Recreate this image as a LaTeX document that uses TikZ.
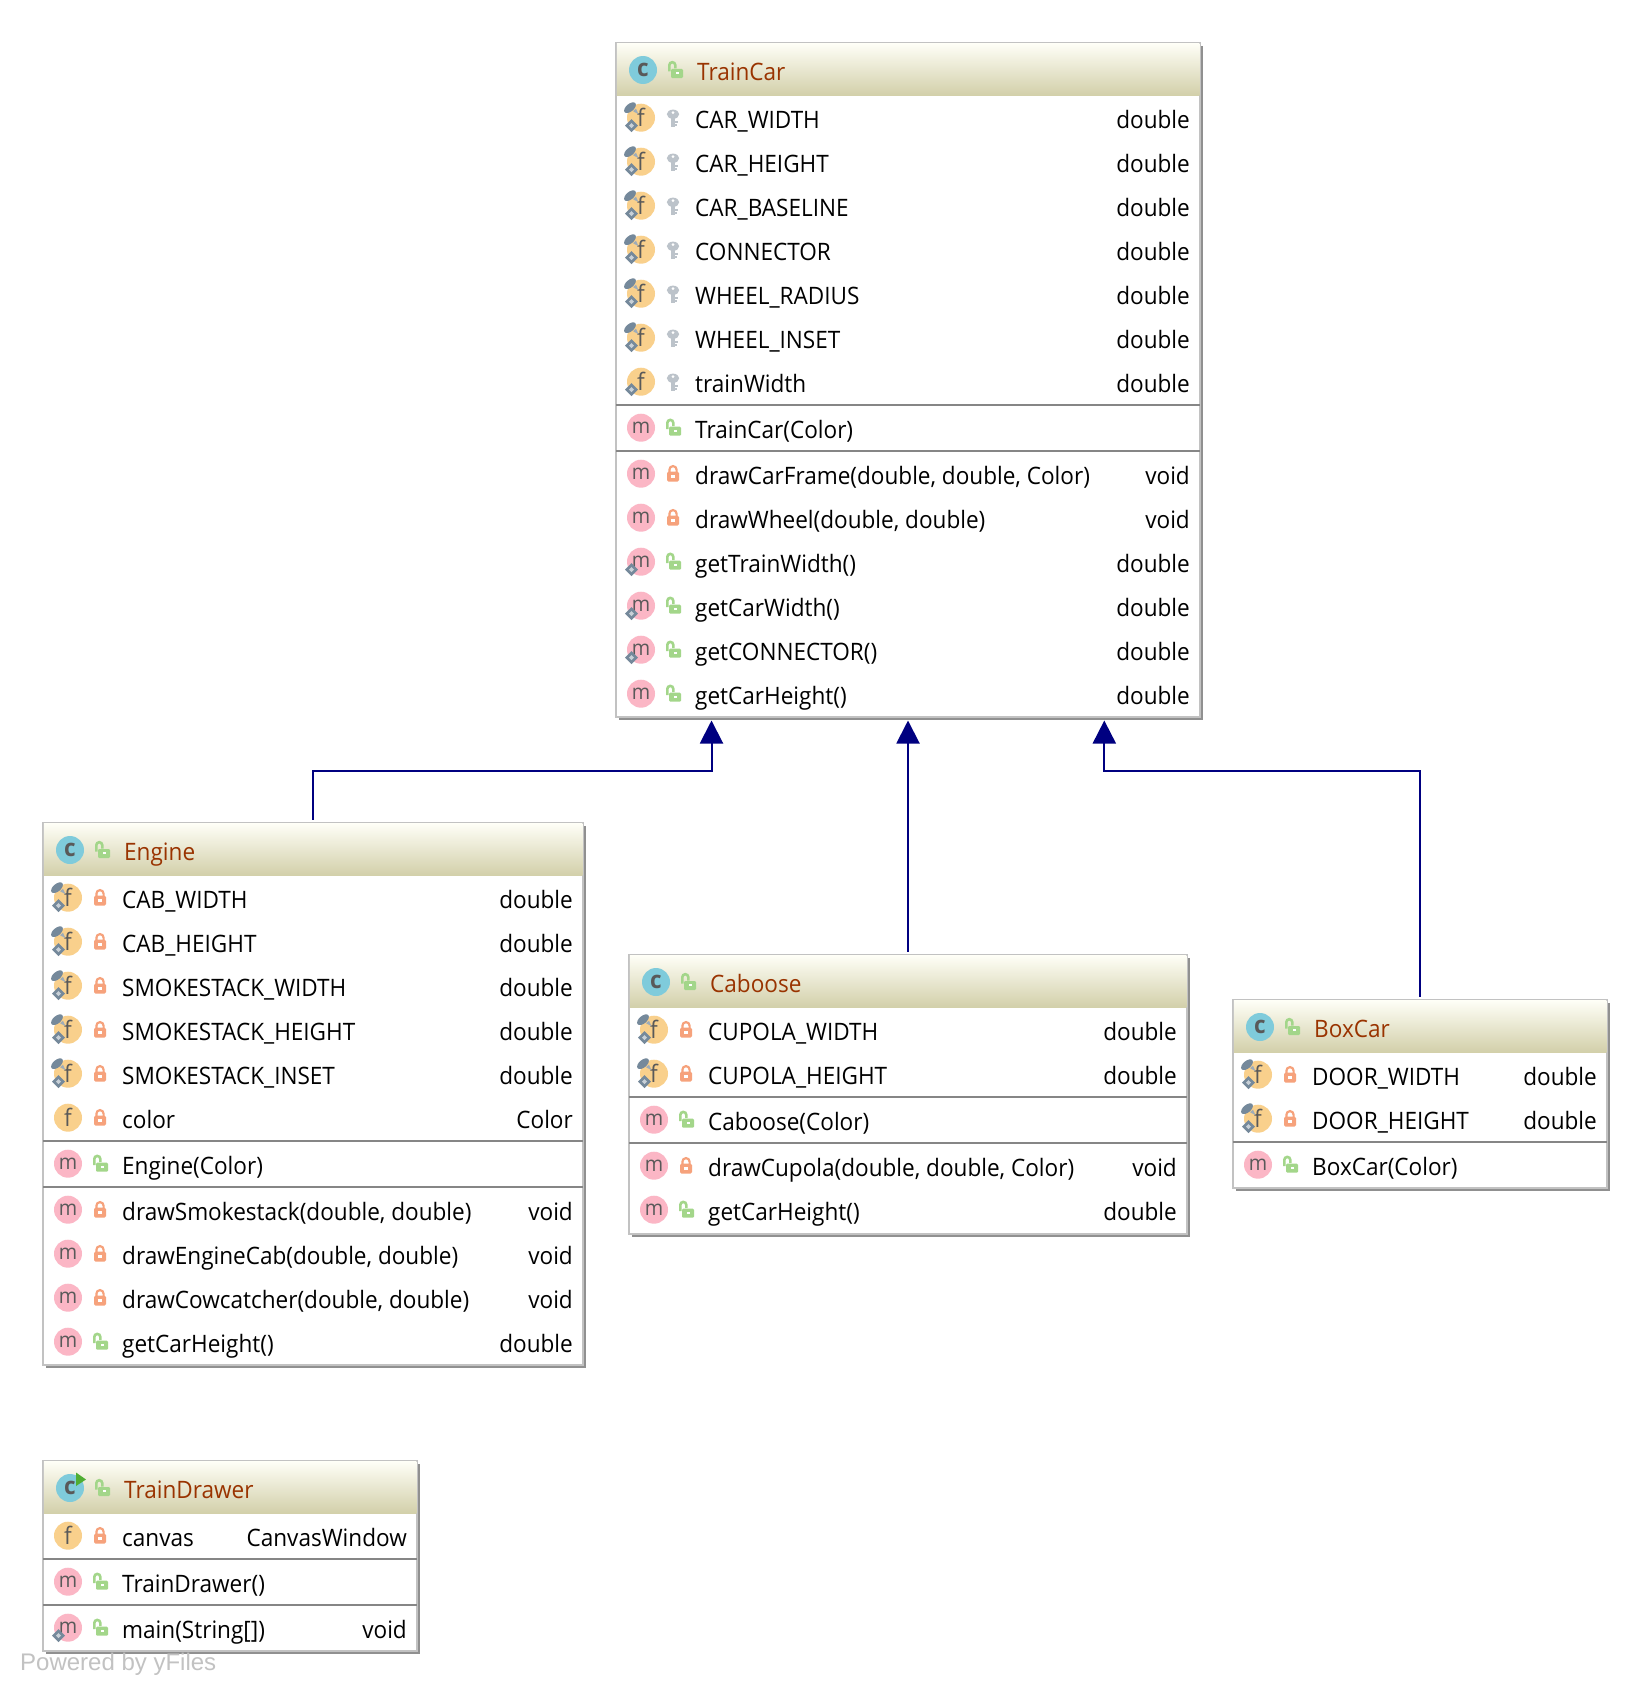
\documentclass[tikz,border=0pt]{standalone}
\usepackage{fontspec}
\setmainfont[FakeStretch=0.94]{Open Sans}
\newfontfamily\brandfont{Liberation Sans}
\usepackage{xcolor}
\usetikzlibrary{arrows.meta,calc}
\definecolor{headtop}{HTML}{FEFEF6}
\definecolor{headbot}{HTML}{D2CFA9}
\definecolor{titleclr}{HTML}{993300}
\definecolor{edgeclr}{HTML}{000080}
\definecolor{rimclr}{HTML}{C2C2C2}
\definecolor{shadeclr}{HTML}{909090}
\definecolor{sepclr}{HTML}{868686}
\definecolor{classclr}{HTML}{7FCBDB}
\definecolor{fieldclr}{HTML}{F9D08C}
\definecolor{methclr}{HTML}{FBB6C5}
\definecolor{pubclr}{HTML}{A3D68A}
\definecolor{privclr}{HTML}{F6A27C}
\definecolor{keyclr}{HTML}{BCC3CA}
\definecolor{markclr}{HTML}{75899B}
\definecolor{runclr}{HTML}{4FAE33}
\tikzset{
  every node/.style={font=\fontsize{24}{24}\selectfont},
  body/.style={draw=rimclr,line width=1.5pt,fill=white,inner sep=0pt,outer sep=0pt,anchor=north west},
  head/.style={top color=headtop,bottom color=headbot,inner sep=0pt,outer sep=0pt,anchor=north,minimum height=52pt},
  ico/.style={circle,minimum size=28pt,inner sep=0pt,outer sep=0pt},
  icoc/.style={ico,fill=classclr,text=black!65,font=\fontsize{24}{24}\selectfont\bfseries},
  icof/.style={ico,fill=fieldclr,text=black!65,font=\fontsize{24}{24}\selectfont},
  icom/.style={ico,fill=methclr,text=black!65,font=\fontsize{21}{21}\selectfont},
  lab/.style={anchor=base west,inner sep=0pt},
  typ/.style={anchor=base east,inner sep=0pt},
  ttl/.style={anchor=base west,inner sep=0pt,text=titleclr},
  sep/.style={draw=sepclr,line width=1.6pt},
  arr/.style={-{Triangle[length=23pt,width=23pt]},draw=edgeclr,line width=2pt,shorten >=3.5pt,shorten <=3.5pt},
  plain/.pic={},
  lockshut/.pic={
    \draw[privclr,line width=2.2pt] (-3.6,-1) -- (-3.6,-4) arc[start angle=180,end angle=360,radius=3.6] -- (3.6,-1);
    \fill[privclr,rounded corners=1.5pt] (-6,-2) rectangle (6,8);
    \fill[white] (-1.8,1.4) rectangle (1.8,3.8);
  },
  lockopen/.pic={
    \draw[pubclr,line width=2.6pt] (-5.7,1.5) -- (-5.7,-4.8) arc[start angle=180,end angle=360,radius=3] -- (0.3,-1.5);
    \fill[pubclr,rounded corners=1.2pt] (-4,-1) rectangle (8,8);
    \fill[white] (0.5,2) rectangle (4,4.2);
  },
  keyico/.pic={
    \fill[keyclr] (0,-3.5) ellipse [x radius=6.2,y radius=4.6];
    \fill[white] (0,-5) circle (1.5);
    \fill[keyclr] (-2.4,-1) rectangle (2.4,9.5);
    \fill[keyclr] (2,3) rectangle (5,5);
    \fill[keyclr] (2,6.4) rectangle (4.2,8.2);
  },
  pinmark/.pic={
    \fill[markclr] (-11,-10) ellipse [x radius=7,y radius=3.8,rotate=40];
    \fill[markclr!70] (-8,-6.5) -- (-2.5,-3.5) -- (-5,-9) -- cycle;
  },
  diamark/.pic={
    \fill[markclr] (-9.5,1.5) -- (-3,8) -- (-9.5,14.5) -- (-16,8) -- cycle;
    \fill[markclr!40] (-9.5,5.5) -- (-7,8) -- (-9.5,10.5) -- (-12,8) -- cycle;
  },
  bothmark/.pic={
    \pic {pinmark};
    \pic {diamark};
  }
}
% one line of a class box: id, left, right, baseline, f or m, access, mark, label, type
\newcommand{\memberrow}[9]{%
  \node[ico#5] (#1-ico) at (#2+25,#4-10.3) {#5};
  \pic at (#1-ico) {#7};
  \pic at (#2+57,#4-10.3) {#6};
  \node[lab] (#1-lab) at (#2+79,#4) {#8};
  \node[typ] (#1-typ) at (#3-10,#4) {#9};
}
% id, left, top, width, height, title
\newcommand{\classbox}[6]{%
  \fill[shadeclr] (#2+3,#3+3) rectangle (#2+#4+3,#3+#5+3);
  \node[body,minimum width=#4pt,minimum height=#5pt] (#1) at (#2,#3) {};
  \node[head,minimum width=#4pt-1.5pt] (#1-head) at ([yshift=-0.75pt]#1.north) {};
  \node[icoc] (#1-ico) at ($(#1.north west)+(27,27)$) {c};
  \pic at ($(#1.north west)+(59,27)$) {lockopen};
  \node[ttl] (#1-title) at ($(#1.north west)+(81,37.5)$) {#6};
}
\begin{document}
\begin{tikzpicture}[x=1pt,y=-1pt]
  \fill[white] (0,0) rectangle (1650,1694);
  \useasboundingbox (0,0) rectangle (1650,1694);

  % TrainCar
  \classbox{traincar}{616}{43}{584}{674}{TrainCar}
  \memberrow{tf1}{616}{1200}{128}{f}{keyico}{bothmark}{CAR\_WIDTH}{double}
  \memberrow{tf2}{616}{1200}{172}{f}{keyico}{bothmark}{CAR\_HEIGHT}{double}
  \memberrow{tf3}{616}{1200}{216}{f}{keyico}{bothmark}{CAR\_BASELINE}{double}
  \memberrow{tf4}{616}{1200}{260}{f}{keyico}{bothmark}{CONNECTOR}{double}
  \memberrow{tf5}{616}{1200}{304}{f}{keyico}{bothmark}{WHEEL\_RADIUS}{double}
  \memberrow{tf6}{616}{1200}{348}{f}{keyico}{bothmark}{WHEEL\_INSET}{double}
  \memberrow{tf7}{616}{1200}{392}{f}{keyico}{diamark}{trainWidth}{double}
  \draw[sep] (616,405) -- (1200,405);
  \memberrow{tc1}{616}{1200}{438}{m}{lockopen}{plain}{TrainCar(Color)}{}
  \draw[sep] (616,451) -- (1200,451);
  \memberrow{tm1}{616}{1200}{484}{m}{lockshut}{plain}{drawCarFrame(double, double, Color)}{void}
  \memberrow{tm2}{616}{1200}{528}{m}{lockshut}{plain}{drawWheel(double, double)}{void}
  \memberrow{tm3}{616}{1200}{572}{m}{lockopen}{diamark}{getTrainWidth()}{double}
  \memberrow{tm4}{616}{1200}{616}{m}{lockopen}{diamark}{getCarWidth()}{double}
  \memberrow{tm5}{616}{1200}{660}{m}{lockopen}{diamark}{getCONNECTOR()}{double}
  \memberrow{tm6}{616}{1200}{704}{m}{lockopen}{plain}{getCarHeight()}{double}

  % Engine
  \classbox{engine}{43}{823}{540}{542}{Engine}
  \memberrow{ef1}{43}{583}{908}{f}{lockshut}{bothmark}{CAB\_WIDTH}{double}
  \memberrow{ef2}{43}{583}{952}{f}{lockshut}{bothmark}{CAB\_HEIGHT}{double}
  \memberrow{ef3}{43}{583}{996}{f}{lockshut}{bothmark}{SMOKESTACK\_WIDTH}{double}
  \memberrow{ef4}{43}{583}{1040}{f}{lockshut}{bothmark}{SMOKESTACK\_HEIGHT}{double}
  \memberrow{ef5}{43}{583}{1084}{f}{lockshut}{bothmark}{SMOKESTACK\_INSET}{double}
  \memberrow{ef6}{43}{583}{1128}{f}{lockshut}{plain}{color}{Color}
  \draw[sep] (43,1141) -- (583,1141);
  \memberrow{ec1}{43}{583}{1174}{m}{lockopen}{plain}{Engine(Color)}{}
  \draw[sep] (43,1187) -- (583,1187);
  \memberrow{em1}{43}{583}{1220}{m}{lockshut}{plain}{drawSmokestack(double, double)}{void}
  \memberrow{em2}{43}{583}{1264}{m}{lockshut}{plain}{drawEngineCab(double, double)}{void}
  \memberrow{em3}{43}{583}{1308}{m}{lockshut}{plain}{drawCowcatcher(double, double)}{void}
  \memberrow{em4}{43}{583}{1352}{m}{lockopen}{plain}{getCarHeight()}{double}

  % Caboose
  \classbox{caboose}{629}{955}{558}{279}{Caboose}
  \memberrow{cf1}{629}{1187}{1040}{f}{lockshut}{bothmark}{CUPOLA\_WIDTH}{double}
  \memberrow{cf2}{629}{1187}{1084}{f}{lockshut}{bothmark}{CUPOLA\_HEIGHT}{double}
  \draw[sep] (629,1097) -- (1187,1097);
  \memberrow{cc1}{629}{1187}{1130}{m}{lockopen}{plain}{Caboose(Color)}{}
  \draw[sep] (629,1143) -- (1187,1143);
  \memberrow{cm1}{629}{1187}{1176}{m}{lockshut}{plain}{drawCupola(double, double, Color)}{void}
  \memberrow{cm2}{629}{1187}{1220}{m}{lockopen}{plain}{getCarHeight()}{double}

  % BoxCar
  \classbox{boxcar}{1233}{1000}{374}{188}{BoxCar}
  \memberrow{bf1}{1233}{1607}{1085}{f}{lockshut}{bothmark}{DOOR\_WIDTH}{double}
  \memberrow{bf2}{1233}{1607}{1129}{f}{lockshut}{bothmark}{DOOR\_HEIGHT}{double}
  \draw[sep] (1233,1142) -- (1607,1142);
  \memberrow{bc1}{1233}{1607}{1175}{m}{lockopen}{plain}{BoxCar(Color)}{}

  % TrainDrawer
  \classbox{drawer}{43}{1461}{374}{190}{TrainDrawer}
  \fill[runclr] (76,1472.5) -- (86,1479.5) -- (76,1486) -- cycle;
  \memberrow{df1}{43}{417}{1546}{f}{lockshut}{plain}{canvas}{CanvasWindow}
  \draw[sep] (43,1559) -- (417,1559);
  \memberrow{dc1}{43}{417}{1592}{m}{lockopen}{plain}{TrainDrawer()}{}
  \draw[sep] (43,1605) -- (417,1605);
  \memberrow{dm1}{43}{417}{1638}{m}{lockopen}{diamark}{main(String[])}{void}

  \node[lab,text=rimclr,font=\brandfont\fontsize{24}{24}\selectfont] (powered) at (20,1670) {Powered by yFiles};

  \coordinate (tcl) at ($(traincar.south)+(-196.5,0)$);
  \coordinate (tcr) at ($(traincar.south)+(196.3,0)$);
  \draw[arr] (engine.north) |- ($(tcl)+(0,53.5)$) -- (tcl);
  \draw[arr] (caboose.north) -- (caboose.north |- traincar.south);
  \draw[arr] (boxcar.north) |- ($(tcr)+(0,53.5)$) -- (tcr);
\end{tikzpicture}
\end{document}
